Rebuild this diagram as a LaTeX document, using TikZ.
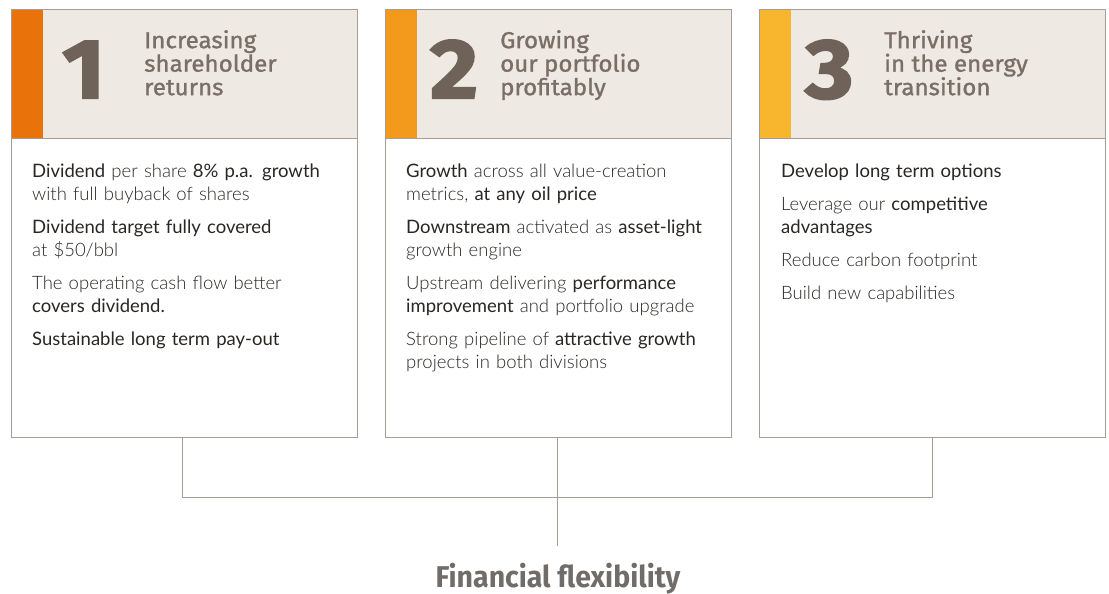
\documentclass[tikz,border=0pt]{standalone}
\usepackage{fontspec}
\setmainfont{Lato}
\newfontfamily\bodyfont{Lato Light}[BoldFont=Lato]
\newfontfamily\headfont{Fira Sans}[FakeBold=1.2,FakeStretch=1.05]
\newfontfamily\numfont{Fira Sans}[FakeStretch=1.1,FakeBold=2.5]
\newfontfamily\fffont{Fira Sans}[FakeStretch=0.95]
\definecolor{border}{HTML}{A59D96}
\definecolor{headfill}{HTML}{EEE9E3}
\definecolor{numcol}{HTML}{6F6259}
\definecolor{headcol}{HTML}{7A6E66}
\definecolor{barA}{HTML}{EA720A}
\definecolor{barB}{HTML}{F39A1C}
\definecolor{barC}{HTML}{F8B62E}
\definecolor{bodycol}{HTML}{2A2623}
\definecolor{ffcol}{HTML}{6F6C6A}
\begin{document}
\begin{tikzpicture}[x=1pt,y=-1pt,
  frame/.style={draw=border,line width=1pt},
  conn/.style={draw=border,line width=1pt},
  numtext/.style={inner sep=0pt,anchor=base west,text=numcol,font=\numfont\bfseries\fontsize{84}{84}\selectfont},
  headtext/.style={inner sep=0pt,anchor=north west,text=headcol,align=left,font=\headfont\fontsize{23}{23.5}\selectfont},
  bodytext/.style={inner sep=0pt,anchor=north west,text=bodycol,align=left,text width=318pt,font=\bodyfont\fontsize{18.5}{23}\selectfont}
]
\useasboundingbox (0,0) rectangle (1109,594);
% boxes
\foreach \x/\c/\n in {11/barA/1,385/barB/2,759/barC/3}{
  \fill[headfill] (\x,10) rectangle ++(346,128);
  \fill[\c] (\x,10) rectangle ++(32,128);
  \draw[frame] (\x,10) rectangle ++(346,427);
  \draw[frame] (\x,138) -- ++(346,0);
}
\node[inner sep=0pt] (b1) at (184,223.5) [minimum width=346pt,minimum height=427pt] {};
\node[inner sep=0pt] (b2) at (558,223.5) [minimum width=346pt,minimum height=427pt] {};
\node[inner sep=0pt] (b3) at (932,223.5) [minimum width=346pt,minimum height=427pt] {};
% numbers
\node[numtext] (n1) at (62,98) {1};
\node[numtext] (n2) at (430,98) {2};
\node[numtext] (n3) at (805,98) {3};
% headings
\node[headtext] (h1) at (144,30) {Increasing\\shareholder\\returns};
\node[headtext] (h2) at (500,30) {Growing\\our portfolio\\profitably};
\node[headtext] (h3) at (884,30) {Thriving\\in the energy\\transition};
% body texts
\node[bodytext] (t1) at (32,164) {\textbf{Dividend} per share \textbf{8\% p.a. growth}\\with full buyback of shares\\[10pt]
\textbf{Dividend target fully covered}\\at \$50/bbl\\[10pt]
The operating cash flow better\\\textbf{covers dividend.}\\[10pt]
\textbf{Sustainable long term pay-out}};
\node[bodytext] (t2) at (406,164) {\textbf{Growth} across all value-creation\\metrics, \textbf{at any oil price}\\[10pt]
\textbf{Downstream} activated as \textbf{asset-light}\\growth engine\\[10pt]
Upstream delivering \textbf{performance}\\\textbf{improvement} and portfolio upgrade\\[10pt]
Strong pipeline of \textbf{attractive growth}\\projects in both divisions};
\node[bodytext] (t3) at (781,164) {\textbf{Develop long term options}\\[10pt]
Leverage our \textbf{competitive}\\\textbf{advantages}\\[10pt]
Reduce carbon footprint\\[10pt]
Build new capabilities};
% connectors
\coordinate (j1) at (182,497);
\coordinate (j3) at (932,497);
\coordinate (jm) at (557,546);
\draw[conn] (b1.south -| j1) -- (j1) -- (j3) -- (b3.south -| j3);
\draw[conn] (b2.south -| jm) -- (jm);
\node[inner sep=0pt,anchor=base,text=ffcol,font=\fffont\bfseries\fontsize{30}{30}\selectfont] (ff) at (558,587) {Financial flexibility};
\end{tikzpicture}
\end{document}
